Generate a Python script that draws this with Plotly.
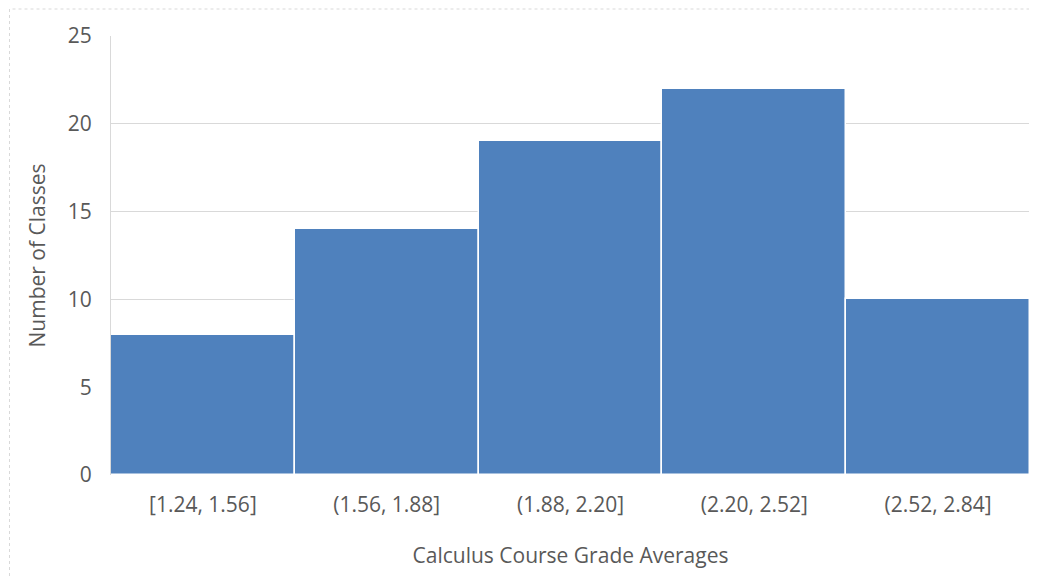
import plotly.graph_objects as go

categories = ["[1.24, 1.56]", "(1.56, 1.88]", "(1.88, 2.20]", "(2.20, 2.52]", "(2.52, 2.84]"]
counts = [8, 14, 19, 22, 10]
y_ticks = [0, 5, 10, 15, 20, 25]

# page offset of the figure inside the browser (body margin)
OFF = 8
W, H = 1037 - OFF, 579 - OFF
L, R, T, B = 111 - OFF, 7, 36 - OFF, 104
pw, ph = W - L - R, H - T - B

def px_x(p):
    return (p - OFF - L) / pw

def px_y(p):
    return (H - B - (p - OFF)) / ph

fig = go.Figure(go.Bar(
    x=categories, y=counts,
    marker=dict(color="#4F81BD", line=dict(color="white", width=1.5)),
))

font = "Open Sans"
fs = 21
fig.update_layout(
    width=W, height=H,
    margin=dict(l=L, r=R, t=T, b=B, autoexpand=False),
    paper_bgcolor="white", plot_bgcolor="white",
    bargap=0, showlegend=False,
    font=dict(family=font, size=fs, color="#595959"),
    xaxis=dict(
        title=dict(text="Calculus Course Grade Averages", font=dict(size=fs, color="#595959"), standoff=31),
        showgrid=False, showline=False, zeroline=False,
        ticks="", ticklabelstandoff=15,
        tickfont=dict(size=fs, color="#595959"),
    ),
    yaxis=dict(
        title=dict(text="Number of Classes", font=dict(size=fs, color="#595959"), standoff=16),
        range=[0, 25], tickvals=y_ticks,
        showgrid=True, gridcolor="#D9D9D9", gridwidth=1,
        showline=True, linecolor="#D9D9D9", linewidth=1,
        zeroline=False, ticks="", ticklabelstandoff=14,
        tickfont=dict(size=fs, color="#595959"),
    ),
    shapes=[dict(
        type="rect", xref="paper", yref="paper",
        x0=px_x(9.5), x1=px_x(1045), y0=px_y(590), y1=px_y(9),
        line=dict(color="#D9D9D9", width=1, dash="dot"), layer="below",
    )],
)

fig.write_html("out.html")
